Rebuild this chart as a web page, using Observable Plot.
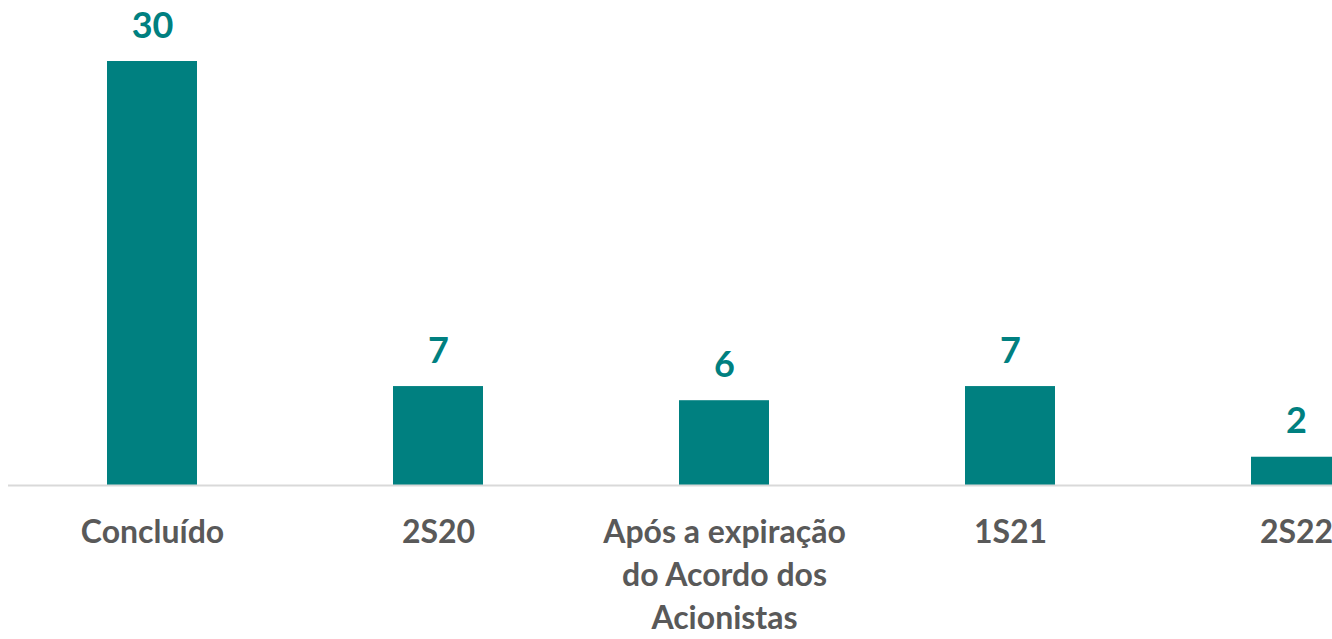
<!DOCTYPE html>
<html>
<head>
<meta charset="utf-8">
<script src="https://cdn.jsdelivr.net/npm/d3@7"></script>
<script src="https://cdn.jsdelivr.net/npm/@observablehq/plot@0.6"></script>
<style>
  html, body { margin: 0; padding: 0; background: #fff; overflow: hidden; }
  #chart { width: 1332px; height: 639px; overflow: hidden; }
</style>
</head>
<body>
<div id="chart"></div>
<script>
const categories = ["Concluído", "2S20", "Após a expiração do Acordo dos Acionistas", "1S21", "2S22"];
const values = [30, 7, 6, 7, 2];
const tickLabels = ["Concluído", "2S20", "Após a expiração\ndo Acordo dos\nAcionistas", "1S21", "2S22"];

const data = categories.map((c, i) => ({category: c, value: values[i]}));
const labelOf = new Map(categories.map((c, i) => [c, tickLabels[i]]));

const teal = "#008080";
const font = "Lato, 'Open Sans', sans-serif";

const chart = Plot.plot({
  width: 1440,
  height: 639,
  marginLeft: 8,
  marginRight: 0,
  marginTop: 61,
  marginBottom: 154,
  style: {fontFamily: font, maxWidth: "none", background: "#fff", overflow: "hidden"},
  x: {domain: categories, paddingInner: 1 - 90 / 286.4, paddingOuter: (1 - 90 / 286.4) / 2},
  y: {domain: [0, 30], axis: null},
  marks: [
    Plot.barY(data, {x: "category", y: "value", fill: teal}),
    Plot.ruleY([0], {stroke: "#d9d9d9", strokeWidth: 2}),
    Plot.text(data, {
      x: "category", y: "value", text: d => String(d.value),
      lineAnchor: "bottom", dy: -24,
      fill: teal, fontSize: 36, fontWeight: "bold", fontFamily: font
    }),
    Plot.axisX({
      tickSize: 0, tickPadding: 27,
      tickFormat: d => labelOf.get(d),
      fontSize: 32, fontWeight: "bold", fill: "#595959",
      lineHeight: 1.34, label: null, fontFamily: font
    })
  ]
});
document.getElementById("chart").appendChild(chart);
</script>
</body>
</html>
